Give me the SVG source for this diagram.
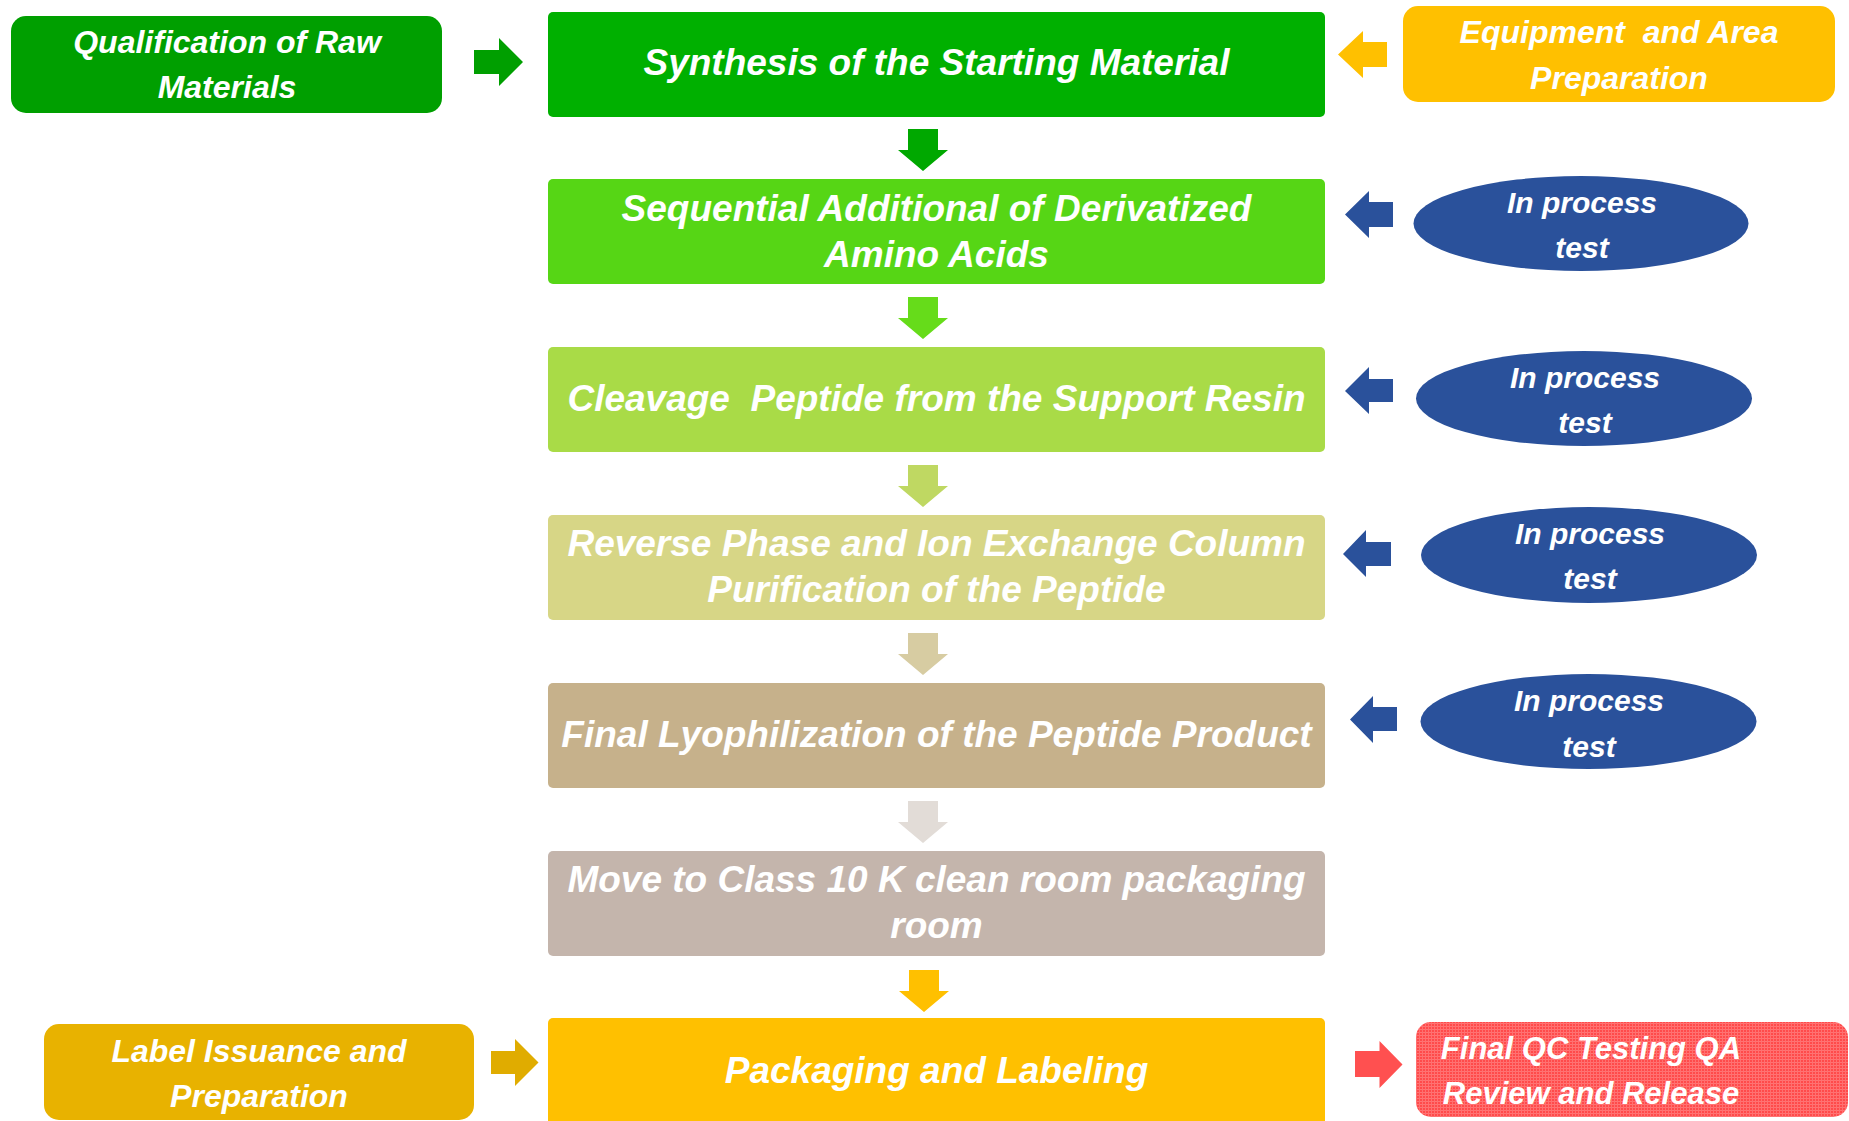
<svg xmlns="http://www.w3.org/2000/svg" width="1849" height="1121" viewBox="0 0 1849 1121">
<style>
text{font-family:"Liberation Sans",Arial,sans-serif;font-weight:bold;font-style:italic;fill:#ffffff;text-anchor:middle}
.m{font-size:37px}
.s{font-size:32px}
.e{font-size:30px}
.r{font-size:31px}
.ell{fill:#2A519B}
.ba{fill:#2A519B}
</style>
<defs>
<pattern id="grid" width="3" height="3" patternUnits="userSpaceOnUse">
<rect width="3" height="3" fill="#FF4B4B"/>
<rect width="3" height="1" fill="#FF7474"/>
<rect width="1" height="3" fill="#FF7070"/>
</pattern>
</defs>
<rect width="1849" height="1121" fill="#ffffff"/>

<g id="connectors">
<path d="M908,129 H938 V150 H948 L923,171 L898,150 H908 Z" fill="#00A800"/>
<path d="M908,297 H938 V318 H948 L923,339 L898,318 H908 Z" fill="#66DC1A"/>
<path d="M908,465 H938 V486 H948 L923,507 L898,486 H908 Z" fill="#BFD862"/>
<path d="M908,633 H938 V654 H948 L923,675 L898,654 H908 Z" fill="#D7CCA2"/>
<path d="M908,801 H938 V822 H948 L923,843 L898,822 H908 Z" fill="#E2DCD7"/>
<path d="M909,970 H939 V991 H949 L924,1012 L899,991 H909 Z" fill="#FFC000"/>
<path d="M474,50 H499 V38 L523,62 L499,86 V74 H474 Z" fill="#009F00"/>
<path d="M1387,42 H1363 V31 L1338,54.5 L1363,78 V67 H1387 Z" fill="#FFC000"/>
<path class="ba" d="M1393,202 H1369 V191 L1345,214.5 L1369,238 V227 H1393 Z"/>
<path class="ba" d="M1393,379 H1369 V367 L1345,391 L1369,414 V402 H1393 Z"/>
<path class="ba" d="M1391,542 H1366 V530 L1343,554 L1366,577 V566 H1391 Z"/>
<path class="ba" d="M1397,707 H1373 V696 L1350,719.5 L1373,743 V731 H1397 Z"/>
<path d="M491,1051 H515 V1039 L538.5,1062.5 L515,1086 V1074 H491 Z" fill="#E0AC00"/>
<path d="M1355,1051 H1379.5 V1041 L1402.5,1064.5 L1379.5,1088 V1077 H1355 Z" fill="#FF5050"/>
</g>

<g id="synthesis">
<rect x="548" y="12" width="777" height="105" rx="5" fill="#00B000"/>
<text class="m" x="936.5" y="75">Synthesis of the Starting Material</text>
</g>
<g id="sequential">
<rect x="548" y="179" width="777" height="105" rx="5" fill="#56D615"/>
<text class="m" x="936.5" y="221">Sequential Additional of Derivatized</text>
<text class="m" x="936.5" y="267">Amino Acids</text>
</g>
<g id="cleavage">
<rect x="548" y="347" width="777" height="105" rx="5" fill="#A9DB47"/>
<text class="m" x="936.5" y="411" xml:space="preserve">Cleavage  Peptide from the Support Resin</text>
</g>
<g id="reverse-phase">
<rect x="548" y="515" width="777" height="105" rx="5" fill="#D7D686"/>
<text class="m" x="936.5" y="556">Reverse Phase and Ion Exchange Column</text>
<text class="m" x="936.5" y="602">Purification of the Peptide</text>
</g>
<g id="lyophilization">
<rect x="548" y="683" width="777" height="105" rx="5" fill="#C6B18B"/>
<text class="m" x="936.5" y="747">Final Lyophilization of the Peptide Product</text>
</g>
<g id="move-clean-room">
<rect x="548" y="851" width="777" height="105" rx="5" fill="#C4B5AC"/>
<text class="m" x="936.5" y="892">Move to Class 10 K clean room packaging</text>
<text class="m" x="936.5" y="938">room</text>
</g>
<g id="packaging">
<rect x="548" y="1018" width="777" height="110" rx="5" fill="#FFC000"/>
<text class="m" x="936.5" y="1083">Packaging and Labeling</text>
</g>

<g id="qualification">
<rect x="11" y="16" width="431" height="97" rx="15" fill="#009F00"/>
<text class="s" x="227" y="53">Qualification of Raw</text>
<text class="s" x="227" y="98">Materials</text>
</g>
<g id="equipment">
<rect x="1403" y="6" width="432" height="96" rx="15" fill="#FFC000"/>
<text class="s" x="1619" y="43" xml:space="preserve">Equipment  and Area</text>
<text class="s" x="1619" y="89">Preparation</text>
</g>
<g id="label-issuance">
<rect x="44" y="1024" width="430" height="96" rx="15" fill="#E8B200"/>
<text class="s" x="259" y="1062">Label Issuance and</text>
<text class="s" x="259" y="1107">Preparation</text>
</g>
<g id="final-qc">
<rect x="1416" y="1022" width="432" height="95" rx="15" fill="url(#grid)"/>
<text class="r" x="1591" y="1059">Final QC Testing QA</text>
<text class="r" x="1591" y="1104">Review and Release</text>
</g>

<g id="ipt-1">
<ellipse class="ell" cx="1581" cy="223.5" rx="167.5" ry="47.5"/>
<text class="e" x="1582" y="213">In process</text>
<text class="e" x="1582" y="258">test</text>
</g>
<g id="ipt-2">
<ellipse class="ell" cx="1584" cy="398.5" rx="168" ry="47.5"/>
<text class="e" x="1585" y="388">In process</text>
<text class="e" x="1585" y="433">test</text>
</g>
<g id="ipt-3">
<ellipse class="ell" cx="1589" cy="555" rx="168" ry="48"/>
<text class="e" x="1590" y="544">In process</text>
<text class="e" x="1590" y="589">test</text>
</g>
<g id="ipt-4">
<ellipse class="ell" cx="1588.5" cy="721.5" rx="168" ry="47.5"/>
<text class="e" x="1589" y="711">In process</text>
<text class="e" x="1589" y="757">test</text>
</g>
</svg>
